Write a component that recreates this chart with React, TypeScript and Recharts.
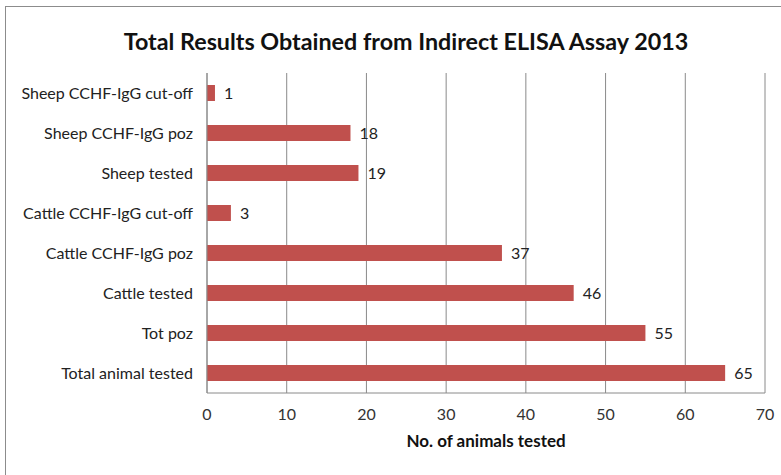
import { Bar, BarChart, CartesianGrid, LabelList, XAxis, YAxis, Label } from 'recharts'

const categories = [
    'Sheep CCHF-IgG cut-off',
    'Sheep CCHF-IgG poz',
    'Sheep tested',
    'Cattle CCHF-IgG cut-off',
    'Cattle CCHF-IgG poz',
    'Cattle tested',
    'Tot poz',
    'Total animal tested',
]
const animalCounts = [1, 18, 19, 3, 37, 46, 55, 65]
const xTicks = [0, 10, 20, 30, 40, 50, 60, 70]

const chartData = categories.map((name, i) => ({ name, value: animalCounts[i] }))

const FONT = 'Lato, "Open Sans", sans-serif'

export default function App() {
    return (
        <div style={{ position: 'fixed', left: 0, top: 0, width: 781, height: 475, background: '#fff', fontFamily: FONT }}>
            <div
                style={{
                    position: 'absolute',
                    left: 5,
                    top: 6,
                    width: 790,
                    height: 480,
                    border: '1px solid #8c8c8c',
                    boxSizing: 'border-box',
                }}
            />
            <div
                style={{
                    position: 'absolute',
                    left: 0,
                    top: 27,
                    width: 812,
                    textAlign: 'center',
                    fontSize: 23.3,
                    fontWeight: 700,
                    color: '#111',
                }}
            >
                Total Results Obtained from Indirect ELISA Assay 2013
            </div>
            <BarChart
                width={781}
                height={475}
                data={chartData}
                layout="vertical"
                margin={{ top: 73, right: 16, bottom: 0, left: 0 }}
                style={{ position: 'absolute', left: 0, top: 0 }}
            >
                <CartesianGrid horizontal={false} stroke="#8a8a8a" />
                <XAxis
                    type="number"
                    domain={[0, 70]}
                    ticks={xTicks}
                    interval={0}
                    tickLine={false}
                    tickMargin={10}
                    axisLine={{ stroke: '#8a8a8a' }}
                    tick={{ fontSize: 16, fill: '#333', fontFamily: FONT }}
                    height={82}
                >
                    <Label
                        value="No. of animals tested"
                        position="insideTop"
                        offset={42}
                        style={{ fontSize: 17, fontWeight: 700, fill: '#111', fontFamily: FONT }}
                    />
                </XAxis>
                <YAxis
                    type="category"
                    dataKey="name"
                    width={207}
                    tickLine={false}
                    tickMargin={8}
                    interval={0}
                    axisLine={{ stroke: '#8a8a8a' }}
                    tick={{ fontSize: 16, fill: '#222', fontFamily: FONT }}
                />
                <Bar dataKey="value" fill="#c0504d" isAnimationActive={false} barSize={16}>
                    <LabelList
                        dataKey="value"
                        position="right"
                        offset={9}
                        style={{ fontSize: 16, fill: '#222', fontFamily: FONT }}
                    />
                </Bar>
            </BarChart>
        </div>
    )
}
